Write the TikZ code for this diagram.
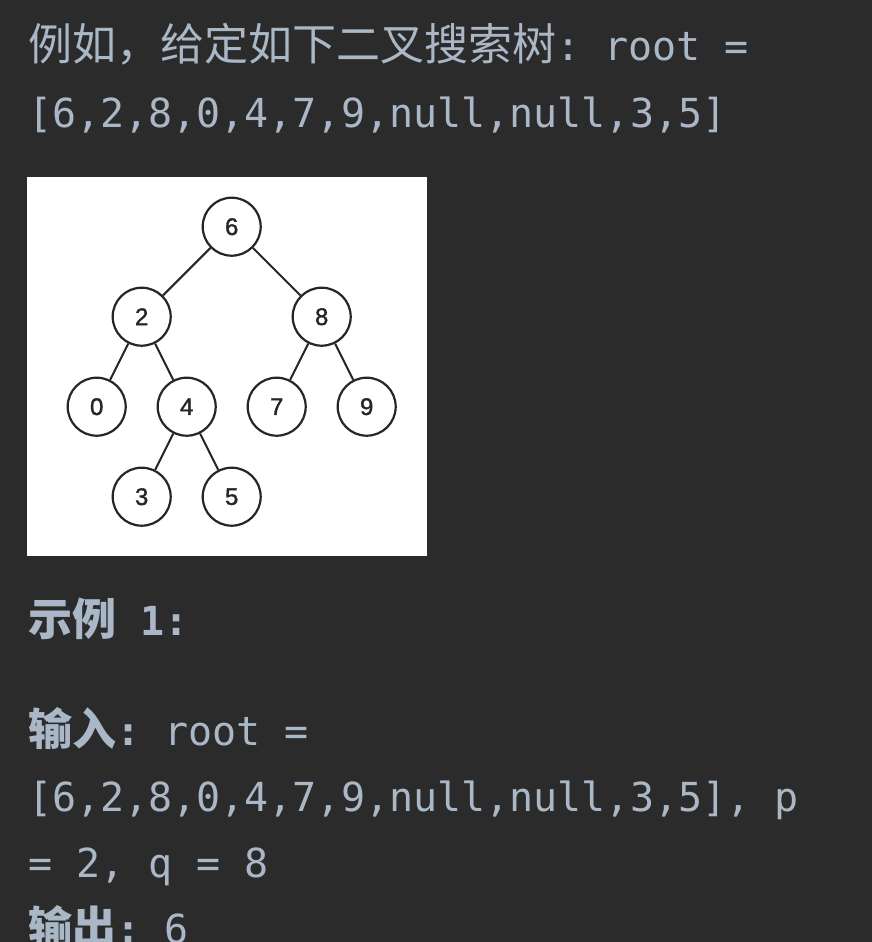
\documentclass[tikz,border=0pt]{standalone}
\usepackage{fontspec}
\setmonofont{DejaVu Sans Mono}
\newfontfamily\cjk{Noto Sans CJK SC}
\newfontfamily\treefont[FakeBold=1.5]{Liberation Sans}
\definecolor{bg}{HTML}{2B2B2B}
\definecolor{fg}{HTML}{A9B7C6}
\definecolor{ink}{HTML}{262626}
\tikzset{
  mono/.style={anchor=base west, inner sep=0pt, outer sep=0pt, text=fg,
    font=\ttfamily\fontsize{40}{40}\selectfont},
  monob/.style={mono, font=\ttfamily\bfseries\fontsize{40}{40}\selectfont},
  han/.style={anchor=base west, inner sep=0pt, outer sep=0pt, text=fg,
    font=\cjk\fontsize{44}{44}\selectfont},
  hanb/.style={han, font=\cjk\bfseries\fontsize{44}{44}\selectfont},
  tnode/.style={circle, draw=ink, line width=2.2pt, fill=white, inner sep=0pt,
    minimum size=58pt, text=ink, font=\treefont\fontsize{24}{24}\selectfont},
  tedge/.style={draw=ink, line width=2pt}
}
\begin{document}
\begin{tikzpicture}[x=1pt,y=-1pt]
\fill[bg] (0,0) rectangle (872,942);
\useasboundingbox (0,0) rectangle (872,942);
\clip (0,0) rectangle (872,942);

% heading text
\node[han] (t1) at (28,61) {例如，给定如下二叉搜索树};
\node[mono] (t1b) at (t1.base east) {: root =};
\node[mono] (t2) at (28,127) {[6,2,8,0,4,7,9,null,null,3,5]};

% tree picture
\fill[white] (27,177) rectangle (427,556);
\node[tnode] (n6) at (231.7,226.7) {6};
\node[tnode] (n2) at (141.7,316.7) {2};
\node[tnode] (n8) at (321.7,316.7) {8};
\node[tnode] (n0) at (96.7,406.7) {0};
\node[tnode] (n4) at (186.7,406.7) {4};
\node[tnode] (n7) at (276.7,406.7) {7};
\node[tnode] (n9) at (366.7,406.7) {9};
\node[tnode] (n3) at (141.7,496.7) {3};
\node[tnode] (n5) at (231.7,496.7) {5};
\draw[tedge] (n6) -- (n2);
\draw[tedge] (n6) -- (n8);
\draw[tedge] (n2) -- (n0);
\draw[tedge] (n2) -- (n4);
\draw[tedge] (n8) -- (n7);
\draw[tedge] (n8) -- (n9);
\draw[tedge] (n4) -- (n3);
\draw[tedge] (n4) -- (n5);

% example 1
\node[hanb] (e1) at (28,635) {示例};
\node[monob] (e1b) at (e1.base east) {\ 1:};

\node[hanb] (in) at (28,745) {输入};
\node[monob] (inc) at (in.base east) {:};
\node[mono] (inr) at (inc.base east) {\ root =};
\node[mono] (l2) at (28,811) {[6,2,8,0,4,7,9,null,null,3,5], p};
\node[mono] (l3) at (28,877) {= 2, q = 8};
\node[hanb] (out) at (28,943) {输出};
\node[monob] (outc) at (out.base east) {:};
\node[mono] (outr) at (outc.base east) {\ 6};
\end{tikzpicture}
\end{document}
